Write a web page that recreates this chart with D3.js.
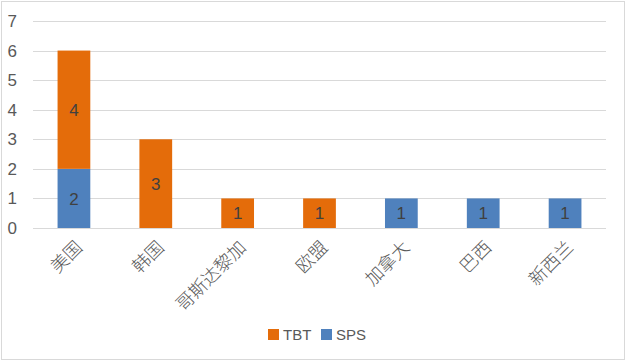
<!DOCTYPE html>
<html><head><meta charset="utf-8">
<script src="https://cdn.jsdelivr.net/npm/d3@7"></script>
<style>body{margin:0;background:#fff}svg{display:block}</style>
</head><body>
<svg id="c" width="628" height="363"></svg>
<script>
const categories = ["美国","韩国","哥斯达黎加","欧盟","加拿大","巴西","新西兰"];
const sps = [2,0,0,0,1,1,1];
const tbt = [4,3,1,1,0,0,0];
const seriesNames = ["TBT","SPS"];
const yTicks = [0,1,2,3,4,5,6,7];
const colors = {SPS:"#4F81BD", TBT:"#E46C0A"};

const svg = d3.select("#c");
const font = "'Liberation Sans', 'Noto Sans', sans-serif";
const cjk = "'Noto Sans CJK SC', sans-serif";
svg.append("rect").attr("x",1.5).attr("y",1.5).attr("width",623).attr("height",358)
  .attr("fill","#fff").attr("stroke","#D9D9D9").attr("stroke-width",1);

const x = d3.scaleBand().domain(categories).range([33,606]).paddingInner(0.6).paddingOuter(0.3);
const y = d3.scaleLinear().domain([0,7]).range([228,21]);

const g = svg.append("g");
g.selectAll("line.grid").data(yTicks).join("line")
  .attr("x1",33).attr("x2",606).attr("y1",d=>Math.round(y(d))+0.5).attr("y2",d=>Math.round(y(d))+0.5)
  .attr("stroke","#D9D9D9").attr("stroke-width",1);

const yAxis = d3.axisLeft(y).tickValues(yTicks).tickFormat(d3.format("d")).tickSize(0).tickPadding(0);
const ya = svg.append("g").attr("transform","translate(17,0)").call(yAxis);
ya.select(".domain").remove();
ya.selectAll("text").attr("font-family",font).attr("font-size",17).attr("fill","#595959");

const data = categories.map((c,i)=>({cat:c, SPS:sps[i], TBT:tbt[i]}));
const stack = d3.stack().keys(["SPS","TBT"])(data);
stack.forEach(layer=>{
  const key = layer.key;
  const bars = svg.append("g");
  bars.selectAll("rect").data(layer.filter(d=>d[1]-d[0]>0)).join("rect")
    .attr("x",d=>x(d.data.cat)).attr("width",x.bandwidth())
    .attr("y",d=>y(d[1])).attr("height",d=>y(d[0])-y(d[1]))
    .attr("fill",colors[key]);
  bars.selectAll("text").data(layer.filter(d=>d[1]-d[0]>0)).join("text")
    .attr("x",d=>x(d.data.cat)+x.bandwidth()/2)
    .attr("y",d=>(y(d[0])+y(d[1]))/2)
    .attr("dy","0.36em").attr("text-anchor","middle")
    .attr("font-family",font).attr("font-size",17).attr("fill","#404040")
    .text(d=>d[1]-d[0]);
});

svg.append("line").attr("x1",33).attr("x2",606).attr("y1",228.5).attr("y2",228.5).attr("stroke","#D9D9D9");

const xa = svg.append("g");
xa.selectAll("text").data(categories).join("text")
  .attr("transform",d=>`translate(${x(d)+x.bandwidth()/2+5},${244}) rotate(-45)`)
  .attr("text-anchor","end").attr("dy","0.35em")
  .attr("font-family",cjk).attr("font-weight",300).attr("font-size",18).attr("fill","#595959")
  .text(d=>d);

const leg = svg.append("g");
const legX = [268, 321];
seriesNames.forEach((s,i)=>{
  leg.append("rect").attr("x",legX[i]).attr("y",329).attr("width",11).attr("height",11).attr("fill",colors[s]);
  leg.append("text").attr("x",legX[i]+15).attr("y",334.5).attr("dy","0.36em")
    .attr("font-family",font).attr("font-size",15).attr("fill","#595959").text(s);
});
</script>
</body></html>
